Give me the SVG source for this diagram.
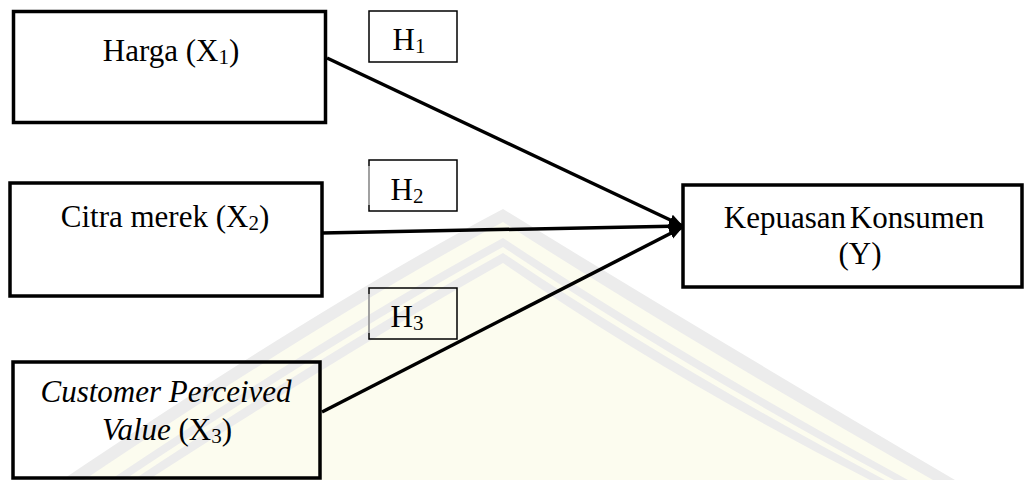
<svg xmlns="http://www.w3.org/2000/svg" width="1024" height="480" viewBox="0 0 1024 480">
<style>
.box{fill:none;stroke:#000;stroke-width:3.5}
.hbox{fill:none;stroke:#000;stroke-width:1.5}
.t{font-family:"Liberation Serif","Times New Roman",serif;font-size:31px;fill:#000;text-anchor:middle}
.sub{font-size:21px}
.conn{stroke:#000;stroke-width:3.5;fill:none;marker-end:url(#ah)}
.wg{fill:#ececec}
.wc{fill:#fcfcef}
</style>
<defs>
<marker id="ah" viewBox="0 0 12 10" refX="12" refY="5" markerWidth="14" markerHeight="12" markerUnits="userSpaceOnUse" orient="auto">
<path d="M0,0 L12,5 L0,10 z" fill="#000"/>
</marker>
</defs>
<g id="watermark">
<path class="wg" d="M503,209 Q330,300 62,480 L955,480 Q700,330 503,209 z"/>
<path class="wc" d="M503,222 Q335,312 84,480 L933,480 Q690,342 503,222 z"/>
<path class="wg" d="M503,238 Q342,325 110,480 L908,480 Q680,355 503,238 z"/>
<path class="wc" d="M503,247 Q346,333 124,480 L894,480 Q675,362 503,247 z"/>
<path class="wg" d="M503,253 Q349,338 133,480 L885,480 Q672,367 503,253 z"/>
<path class="wc" d="M503,263 Q354,347 148,480 L870,480 Q666,376 503,263 z"/>
</g>
<g id="connectors">
<line class="conn" x1="327" y1="58" x2="683" y2="226"/>
<line class="conn" x1="322" y1="233" x2="683" y2="226"/>
<line class="conn" x1="322" y1="412" x2="683" y2="227"/>
</g>
<g id="harga">
<rect class="box" x="13.5" y="11.5" width="312" height="111"/>
<text class="t" x="171" y="61">Harga (X<tspan class="sub" dy="3">1</tspan><tspan dy="-3">)</tspan></text>
</g>
<g id="citra">
<rect class="box" x="10" y="183" width="312" height="113"/>
<text class="t" x="165" y="227">Citra merek (X<tspan class="sub" dy="3">2</tspan><tspan dy="-3">)</tspan></text>
</g>
<g id="cpv">
<rect class="box" x="13" y="362" width="307" height="116"/>
<text class="t" x="166" y="402" font-style="italic">Customer Perceived</text>
<text class="t" x="167" y="440"><tspan font-style="italic">Value</tspan> (X<tspan class="sub" dy="3">3</tspan><tspan dy="-3">)</tspan></text>
</g>
<g id="kepuasan">
<rect class="box" x="683" y="185" width="339" height="102"/>
<text class="t" x="854" y="228" word-spacing="-4">Kepuasan Konsumen</text>
<text class="t" x="860" y="264">(Y)</text>
</g>
<g id="h1">
<rect class="hbox" x="369" y="11" width="88" height="51"/>
<text class="t" x="409" y="50">H<tspan class="sub" dy="3">1</tspan></text>
</g>
<g id="h2">
<rect class="hbox" x="369" y="160" width="88" height="51"/>
<line x1="369" y1="166" x2="369" y2="205" stroke="#bbb" stroke-width="1.6"/>
<text class="t" x="407" y="200">H<tspan class="sub" dy="3">2</tspan></text>
</g>
<g id="h3">
<rect class="hbox" x="369" y="288" width="88" height="51"/>
<line x1="369" y1="294" x2="369" y2="333" stroke="#bbb" stroke-width="1.6"/>
<text class="t" x="407" y="327">H<tspan class="sub" dy="3">3</tspan></text>
</g>
</svg>
